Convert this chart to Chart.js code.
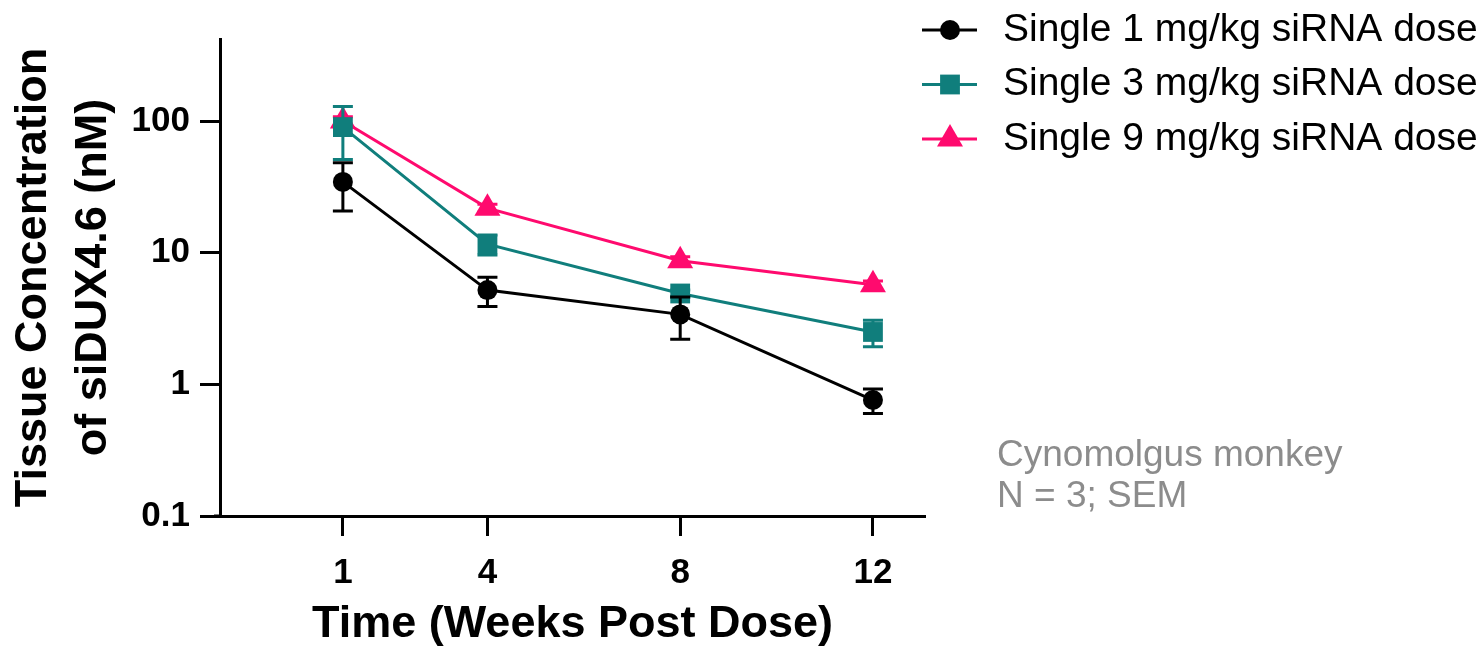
<!DOCTYPE html>
<html>
<head>
<meta charset="utf-8">
<script src="https://cdn.jsdelivr.net/npm/chart.js@4.4.1/dist/chart.umd.min.js"></script>
<style>
  html, body { margin: 0; padding: 0; background: #fff; }
  #wrap { width: 1480px; height: 648px; position: relative; }
</style>
</head>
<body>
<div id="wrap"><canvas id="pk-chart"></canvas></div>
<script>
// data (nM, mean and SEM)
const weeks = [1, 4, 8, 12];
const xTicks = [1, 4, 8, 12];
const yTicks = [0.1, 1, 10, 100];

const seriesLabels = ['Single 1 mg/kg siRNA dose', 'Single 3 mg/kg siRNA dose', 'Single 9 mg/kg siRNA dose'];
const dose1 = [34.5, 5.2, 3.4, 0.76];
const dose1Sem = [13.8, 1.3, 1.2, 0.16];
const dose3 = [90, 11.6, 4.9, 2.5];
const dose3Sem = [39, 2.0, 0.3, 0.57];
const dose9 = [100, 21.8, 8.7, 5.7];
const dose9Sem = [8, 1.5, 0.6, 0.4];

const noteLines = ['Cynomolgus monkey', 'N = 3; SEM'];

const FONT = '"Liberation Sans", Arial, sans-serif';
const BLACK = '#000000';
const TEAL = '#107e7c';
const PINK = '#ff0a6e';

function toPoints(values) {
    return weeks.map((w, i) => ({x: w, y: values[i]}));
}

// error bars under each dataset's own markers
const errorBars = {
    id: 'errorBars',
    beforeDatasetDraw(chart, args) {
        const {ctx, scales: {x, y}} = chart;
        const ds = chart.data.datasets[args.index];
        ctx.save();
        ctx.strokeStyle = ds.borderColor;
        ctx.lineWidth = 3;
        ds.data.forEach((pt, i) => {
            const err = ds.errors[i];
            const px = x.getPixelForValue(pt.x);
            const top = y.getPixelForValue(pt.y + err);
            const bottom = y.getPixelForValue(pt.y - err);
            ctx.beginPath();
            ctx.moveTo(px, top);
            ctx.lineTo(px, bottom);
            ctx.moveTo(px - 10, top);
            ctx.lineTo(px + 10, top);
            ctx.moveTo(px - 10, bottom);
            ctx.lineTo(px + 10, bottom);
            ctx.stroke();
        });
        ctx.restore();
    }
};

// legend on the right + note text
const sideLegend = {
    id: 'sideLegend',
    afterDraw(chart) {
        const {ctx, chartArea, scales: {x}} = chart;
        ctx.save();

        // x axis line runs a little past the y axis, Prism style
        ctx.strokeStyle = '#000';
        ctx.lineWidth = 3;
        ctx.beginPath();
        ctx.moveTo(chartArea.left - 6, chartArea.bottom);
        ctx.lineTo(chartArea.left, chartArea.bottom);
        ctx.stroke();

        chart.data.datasets.forEach((ds, i) => {
            const yPos = 30 + i * 54.5;
            ctx.strokeStyle = ds.borderColor;
            ctx.lineWidth = 3;
            ctx.beginPath();
            ctx.moveTo(922, yPos);
            ctx.lineTo(977, yPos);
            ctx.stroke();
            ctx.fillStyle = ds.pointBackgroundColor;
            Chart.helpers.drawPoint(ctx, {
                pointStyle: ds.pointStyle,
                radius: ds.pointRadius,
                rotation: 0,
                borderWidth: 0
            }, 950, yPos);
            ctx.fillStyle = '#000';
            ctx.font = '39px ' + FONT;
            ctx.textBaseline = 'middle';
            ctx.textAlign = 'left';
            ctx.fillText(ds.label, 1003, yPos);
        });

        ctx.fillStyle = '#8c8c8c';
        ctx.font = '37px ' + FONT;
        noteLines.forEach((line, i) => {
            ctx.fillText(line, 997, 456 + i * 41);
        });
        ctx.restore();
    }
};

const ctx = document.getElementById('pk-chart').getContext('2d');

const pkChart = new Chart(ctx, {
    type: 'line',
    data: {
        datasets: [{
            label: seriesLabels[0],
            data: toPoints(dose1),
            errors: dose1Sem,
            borderColor: BLACK,
            pointBackgroundColor: BLACK,
            borderWidth: 3,
            pointStyle: 'circle',
            pointRadius: 10,
            pointBorderWidth: 0
        }, {
            label: seriesLabels[1],
            data: toPoints(dose3),
            errors: dose3Sem,
            borderColor: TEAL,
            pointBackgroundColor: TEAL,
            borderWidth: 3,
            pointStyle: 'rect',
            pointRadius: 14,
            pointBorderWidth: 0
        }, {
            label: seriesLabels[2],
            data: toPoints(dose9),
            errors: dose9Sem,
            borderColor: PINK,
            pointBackgroundColor: PINK,
            borderWidth: 3,
            pointStyle: 'triangle',
            pointRadius: 15,
            pointBorderWidth: 0
        }]
    },
    options: {
        responsive: true,
        maintainAspectRatio: false,
        animation: false,
        layout: {
            padding: {top: 39, right: 555, left: 0, bottom: 0}
        },
        plugins: {
            legend: {display: false},
            tooltip: {enabled: false}
        },
        scales: {
            x: {
                type: 'linear',
                min: -1.55,
                max: 13.08,
                afterBuildTicks: scale => { scale.ticks = xTicks.map(v => ({value: v})); },
                afterFit: scale => { scale.height = 132; },
                grid: {
                    display: true,
                    drawOnChartArea: false,
                    tickLength: 20,
                    tickWidth: 3,
                    tickColor: '#000'
                },
                border: {display: true, width: 3, color: '#000'},
                ticks: {
                    color: '#000',
                    padding: 16,
                    maxRotation: 0,
                    autoSkip: false,
                    font: {family: FONT, size: 35, weight: 'bold'}
                },
                title: {
                    display: true,
                    text: 'Time (Weeks Post Dose)',
                    color: '#000',
                    padding: {top: 0, bottom: 1},
                    font: {family: FONT, size: 45, weight: 'bold', lineHeight: 1}
                }
            },
            y: {
                type: 'logarithmic',
                min: 0.1,
                max: 420,
                afterBuildTicks: scale => { scale.ticks = yTicks.map(v => ({value: v})); },
                afterFit: scale => { scale.width = 220; },
                grid: {
                    display: true,
                    drawOnChartArea: false,
                    tickLength: 20,
                    tickWidth: 3,
                    tickColor: '#000'
                },
                border: {display: true, width: 3, color: '#000'},
                ticks: {
                    color: '#000',
                    padding: 10,
                    callback: v => String(v),
                    font: {family: FONT, size: 35, weight: 'bold'}
                },
                title: {
                    display: true,
                    text: ['Tissue Concentration', 'of siDUX4.6 (nM)'],
                    color: '#000',
                    padding: {top: 4, bottom: 0},
                    font: {family: FONT, size: 45, weight: 'bold', lineHeight: 1.33}
                }
            }
        }
    },
    plugins: [errorBars, sideLegend]
});
</script>
</body>
</html>
